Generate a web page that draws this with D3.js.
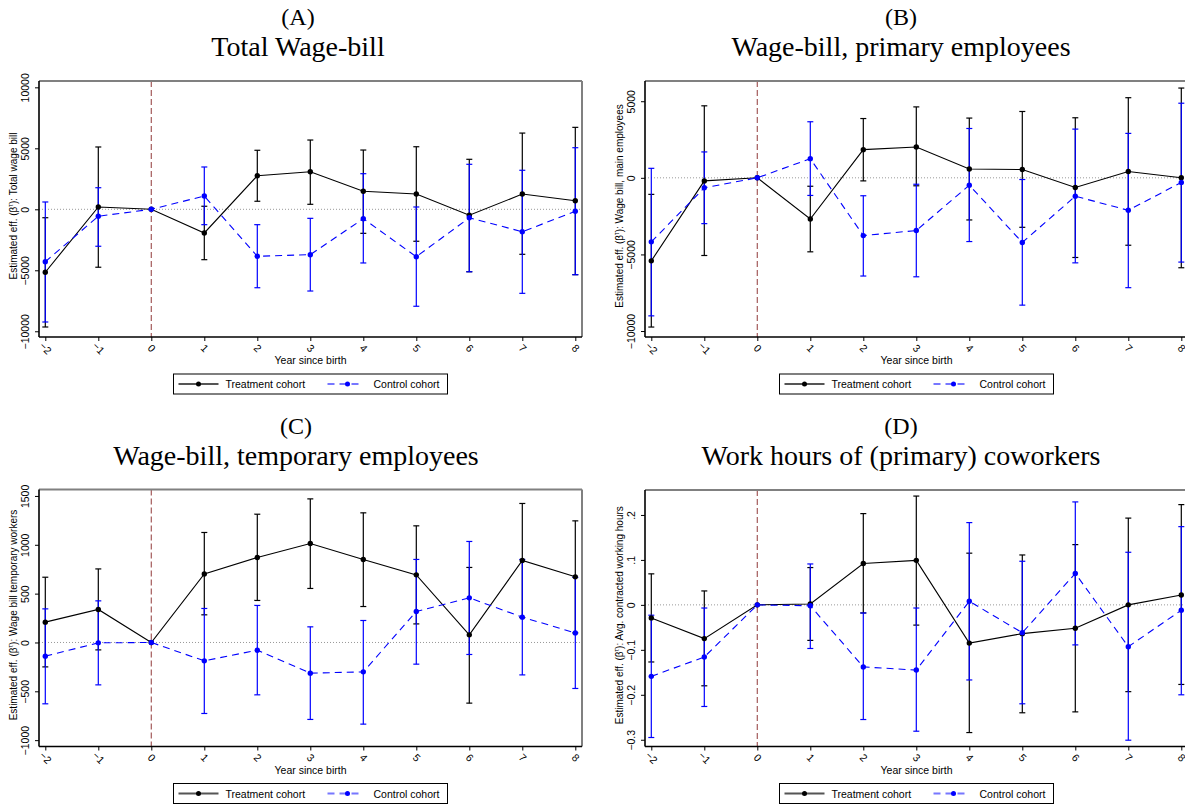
<!DOCTYPE html>
<html><head><meta charset="utf-8">
<script src="https://cdn.jsdelivr.net/npm/d3@7"></script>
<style>body{margin:0;background:#fff}svg{display:block}</style>
</head><body>
<svg id="chart" width="1185" height="805"></svg>
<script>
// ---------- data ----------
const years = [-2, -1, 0, 1, 2, 3, 4, 5, 6, 7, 8];

const aTreatEst = [-5160, 190, 0, -1940, 2750, 3080, 1480, 1250, -490, 1250, 700];
const aTreatLo  = [-9650, -4750, null, -4130, 660, 410, -1970, -2620, -5120, -3690, -5360];
const aTreatHi  = [-690, 5110, null, 250, 4840, 5680, 4860, 5130, 4100, 6250, 6720];
const aCtrlEst  = [-4300, -570, 0, 1090, -3850, -3720, -770, -3890, -690, -1840, -160];
const aCtrlLo   = [-9240, -3030, null, -1260, -6430, -6700, -4400, -7950, -5120, -6890, -5360];
const aCtrlHi   = [600, 1770, null, 3470, -1260, -740, 2920, 190, 3690, 3200, 5050];

const bTreatEst = [-5420, -200, 0, -2690, 1840, 2010, 580, 540, -630, 410, 0];
const bTreatLo  = [-9740, -5070, null, -4830, -200, -520, -2750, -3230, -5200, -4400, -5870];
const bTreatHi  = [-1080, 4700, null, -550, 3870, 4630, 3900, 4330, 3920, 5230, 5860];
const bCtrlEst  = [-4180, -650, 0, 1250, -3770, -3440, -480, -4220, -1200, -2120, -300];
const bCtrlLo   = [-9010, -2990, null, -1150, -6410, -6460, -4160, -8310, -5550, -7170, -5500];
const bCtrlHi   = [620, 1690, null, 3660, -1170, -420, 3220, -110, 3180, 2900, 4870];

const cTreatEst = [208, 338, 0, 702, 870, 1013, 850, 692, 78, 839, 672];
const cTreatLo  = [-250, -76, null, 283, 430, 553, 368, 190, -621, 255, 98];
const cTreatHi  = [668, 753, null, 1126, 1313, 1470, 1327, 1194, 768, 1423, 1245];
const cCtrlEst  = [-140, -4, 0, -188, -79, -314, -301, 317, 457, 259, 98];
const cCtrlLo   = [-628, -434, null, -727, -536, -788, -836, -222, -123, -332, -471];
const cCtrlHi   = [344, 426, null, 348, 379, 160, 225, 850, 1034, 850, 666];

const dTreatEst = [-0.029, -0.075, 0, 0.002, 0.092, 0.099, -0.085, -0.064, -0.052, 0.0, 0.022];
const dTreatLo  = [-0.127, -0.180, null, -0.079, -0.018, -0.045, -0.284, -0.240, -0.238, -0.193, -0.177];
const dTreatHi  = [0.069, 0.031, null, 0.083, 0.203, 0.242, 0.115, 0.111, 0.134, 0.193, 0.223];
const dCtrlEst  = [-0.159, -0.116, 0, -0.002, -0.138, -0.145, 0.008, -0.062, 0.070, -0.093, -0.012];
const dCtrlLo   = [-0.295, -0.226, null, -0.097, -0.255, -0.281, -0.167, -0.220, -0.089, -0.301, -0.200];
const dCtrlHi   = [-0.023, -0.007, null, 0.091, -0.018, -0.007, 0.183, 0.097, 0.229, 0.117, 0.174];

const aYTicks = [-10000, -5000, 0, 5000, 10000];
const bYTicks = [-10000, -5000, 0, 5000];
const cYTicks = [-1000, -500, 0, 500, 1000, 1500];
const dYTicks = [-0.3, -0.2, -0.1, 0, 0.1, 0.2];

const letters = ["(A)", "(B)", "(C)", "(D)"];
const titles = ["Total Wage-bill", "Wage-bill, primary employees", "Wage-bill, temporary employees", "Work hours of (primary) coworkers"];
const yLabels = ["Total wage bill", "Wage bill, main employees", "Wage bill temporary workers", "Avg. contracted working hours"];
const xLabel = "Year since birth";
const seriesNames = ["Treatment cohort", "Control cohort"];

// ---------- drawing ----------
const svg = d3.select("#chart");
const sans = "'Liberation Sans', Arial, Helvetica, sans-serif";
const serif = "'Liberation Serif', 'Times New Roman', serif";

function fmtDec(v) {
  if (v === 0) return "0";
  const s = d3.format(".1f")(v);
  return s.replace(/^(-?)0\./, "$1.");
}

const panels = [
  {frame: {l: 39, r: 582, t: 81, b: 337}, yDom: [-10470, 10520], ticks: aYTicks, fmt: d3.format("d"),
   treat: [aTreatEst, aTreatLo, aTreatHi], ctrl: [aCtrlEst, aCtrlLo, aCtrlHi], titleX: 298, titleY: 0},
  {frame: {l: 645, r: 1188, t: 81, b: 337}, yDom: [-10390, 6320], ticks: bYTicks, fmt: d3.format("d"),
   treat: [bTreatEst, bTreatLo, bTreatHi], ctrl: [bCtrlEst, bCtrlLo, bCtrlHi], titleX: 901, titleY: 0},
  {frame: {l: 39, r: 582, t: 489.5, b: 746.5}, yDom: [-1065, 1566], ticks: cYTicks, fmt: d3.format("d"),
   treat: [cTreatEst, cTreatLo, cTreatHi], ctrl: [cCtrlEst, cCtrlLo, cCtrlHi], titleX: 296, titleY: 409},
  {frame: {l: 645, r: 1188, t: 490, b: 746.5}, yDom: [-0.315, 0.2555], ticks: dYTicks, fmt: fmtDec,
   treat: [dTreatEst, dTreatLo, dTreatHi], ctrl: [dCtrlEst, dCtrlLo, dCtrlHi], titleX: 901, titleY: 409}
];

panels.forEach((p, i) => {
  const f = p.frame;
  const g = svg.append("g");
  const x = d3.scaleLinear().domain([-2 - 6.3 / 53, 8 + 6.7 / 53]).range([f.l, f.r]);
  const y = d3.scaleLinear().domain(p.yDom).range([f.b, f.t]);

  // titles
  g.append("text").attr("x", p.titleX).attr("y", p.titleY + 25).attr("text-anchor", "middle")
    .attr("font-family", serif).attr("font-size", 24).text(letters[i]);
  g.append("text").attr("x", p.titleX).attr("y", p.titleY + 56).attr("text-anchor", "middle")
    .attr("font-family", serif).attr("font-size", 28).text(titles[i]);

  // plot background
  g.append("rect").attr("x", f.l).attr("y", f.t).attr("width", f.r - f.l).attr("height", f.b - f.t).attr("fill", "#fff");

  // zero reference line (dotted)
  g.append("line").attr("x1", f.l).attr("x2", f.r).attr("y1", y(0)).attr("y2", y(0))
    .attr("stroke", "#999").attr("stroke-width", 1).attr("stroke-dasharray", "1,2");
  // vertical dashed line at year 0
  g.append("line").attr("x1", x(0)).attr("x2", x(0)).attr("y1", f.t).attr("y2", f.b)
    .attr("stroke", "#a45a5a").attr("stroke-width", 1.2).attr("stroke-dasharray", "6,3");

  // frame: top & right gray
  g.append("line").attr("x1", f.l).attr("x2", f.r).attr("y1", f.t).attr("y2", f.t).attr("stroke", "#808080").attr("stroke-width", 2);
  g.append("line").attr("x1", f.r).attr("x2", f.r).attr("y1", f.t).attr("y2", f.b).attr("stroke", "#808080").attr("stroke-width", 2);

  // axes
  const xAxis = d3.axisBottom(x).tickValues(years).tickSize(4).tickFormat(d3.format("d"));
  const xg = g.append("g").attr("transform", `translate(0,${f.b})`).call(xAxis);
  xg.select(".domain").attr("stroke", "#000").attr("stroke-width", 1.6).attr("d", `M${f.l},0H${f.r}`);
  xg.selectAll(".tick line").attr("stroke", "#000").attr("stroke-width", 1);
  xg.selectAll(".tick text").attr("font-family", sans).attr("font-size", 10.5).attr("fill", "#000")
    .attr("text-anchor", "middle").attr("dy", null).attr("y", null)
    .attr("transform", "translate(0,11) rotate(45)").attr("dominant-baseline", "central");

  const yAxis = d3.axisLeft(y).tickValues(p.ticks).tickSize(4).tickFormat(p.fmt);
  const yg = g.append("g").attr("transform", `translate(${f.l},0)`).call(yAxis);
  yg.select(".domain").attr("stroke", "#000").attr("stroke-width", 1.6).attr("d", `M0,${f.b}V${f.t}`);
  yg.selectAll(".tick line").attr("stroke", "#000").attr("stroke-width", 1);
  yg.selectAll(".tick text").attr("font-family", sans).attr("font-size", 10.5).attr("fill", "#000")
    .attr("text-anchor", "middle").attr("x", null).attr("dy", null)
    .attr("transform", "translate(-10,0) rotate(-90)");

  // y label
  const yl = g.append("text").attr("transform", `translate(${f.l - 22},${(f.t + f.b) / 2 - 3}) rotate(-90)`)
    .attr("text-anchor", "middle").attr("font-family", sans).attr("font-size", 10).attr("fill", "#000");
  yl.append("tspan").text("Estimated eff. (β");
  yl.append("tspan").attr("font-size", 6.5).attr("dy", -4).text("τ");
  yl.append("tspan").attr("dy", 4).text("): " + yLabels[i]);

  // x label
  g.append("text").attr("x", (f.l + f.r) / 2).attr("y", f.b + 27).attr("text-anchor", "middle")
    .attr("font-family", sans).attr("font-size", 10.5).attr("fill", "#000").text(xLabel);

  const series = [
    {d: p.treat, color: "#000", dash: null},
    {d: p.ctrl, color: "#0000ff", dash: "7,5"}
  ];
  // error bars
  series.forEach(s => {
    const [est, lo, hi] = s.d;
    const rows = years.map((yr, k) => ({yr, lo: lo[k], hi: hi[k]})).filter(r => r.lo !== null);
    const eg = g.append("g").attr("stroke", s.color).attr("stroke-width", 1.2);
    eg.selectAll("line.v").data(rows).join("line").attr("class", "v")
      .attr("x1", r => x(r.yr)).attr("x2", r => x(r.yr)).attr("y1", r => y(r.lo)).attr("y2", r => y(r.hi));
    eg.selectAll("line.lo").data(rows).join("line").attr("class", "lo")
      .attr("x1", r => x(r.yr) - 3).attr("x2", r => x(r.yr) + 3).attr("y1", r => y(r.lo)).attr("y2", r => y(r.lo));
    eg.selectAll("line.hi").data(rows).join("line").attr("class", "hi")
      .attr("x1", r => x(r.yr) - 3).attr("x2", r => x(r.yr) + 3).attr("y1", r => y(r.hi)).attr("y2", r => y(r.hi));
  });
  // lines + markers
  series.forEach(s => {
    const est = s.d[0];
    const pts = years.map((yr, k) => ({yr, v: est[k]}));
    const line = d3.line().x(d => x(d.yr)).y(d => y(d.v));
    g.append("path").datum(pts).attr("d", line).attr("fill", "none").attr("stroke", s.color)
      .attr("stroke-width", 1.1).attr("stroke-dasharray", s.dash);
    g.selectAll(null).data(pts).join("circle").attr("cx", d => x(d.yr)).attr("cy", d => y(d.v))
      .attr("r", 2.7).attr("fill", s.color);
  });

  // legend
  const cx = (f.l + f.r) / 2;
  const lx = cx - 137, ly = f.b + 37;
  const lg = g.append("g");
  lg.append("rect").attr("x", lx).attr("y", ly).attr("width", 274).attr("height", 20)
    .attr("fill", "#fff").attr("stroke", "#000").attr("stroke-width", 1);
  lg.append("line").attr("x1", lx + 5).attr("x2", lx + 45).attr("y1", ly + 10).attr("y2", ly + 10)
    .attr("stroke", "#555").attr("stroke-width", 2);
  lg.append("circle").attr("cx", lx + 25).attr("cy", ly + 10).attr("r", 2.5).attr("fill", "#000");
  lg.append("text").attr("x", lx + 52).attr("y", ly + 14).attr("font-family", sans).attr("font-size", 10.5).text(seriesNames[0]);
  lg.append("line").attr("x1", lx + 154).attr("x2", lx + 190).attr("y1", ly + 10).attr("y2", ly + 10)
    .attr("stroke", "#7777ff").attr("stroke-width", 2).attr("stroke-dasharray", "7,5");
  lg.append("circle").attr("cx", lx + 174).attr("cy", ly + 10).attr("r", 2.5).attr("fill", "#0000ff");
  lg.append("text").attr("x", lx + 200).attr("y", ly + 14).attr("font-family", sans).attr("font-size", 10.5).text(seriesNames[1]);
});
</script>
</body></html>
